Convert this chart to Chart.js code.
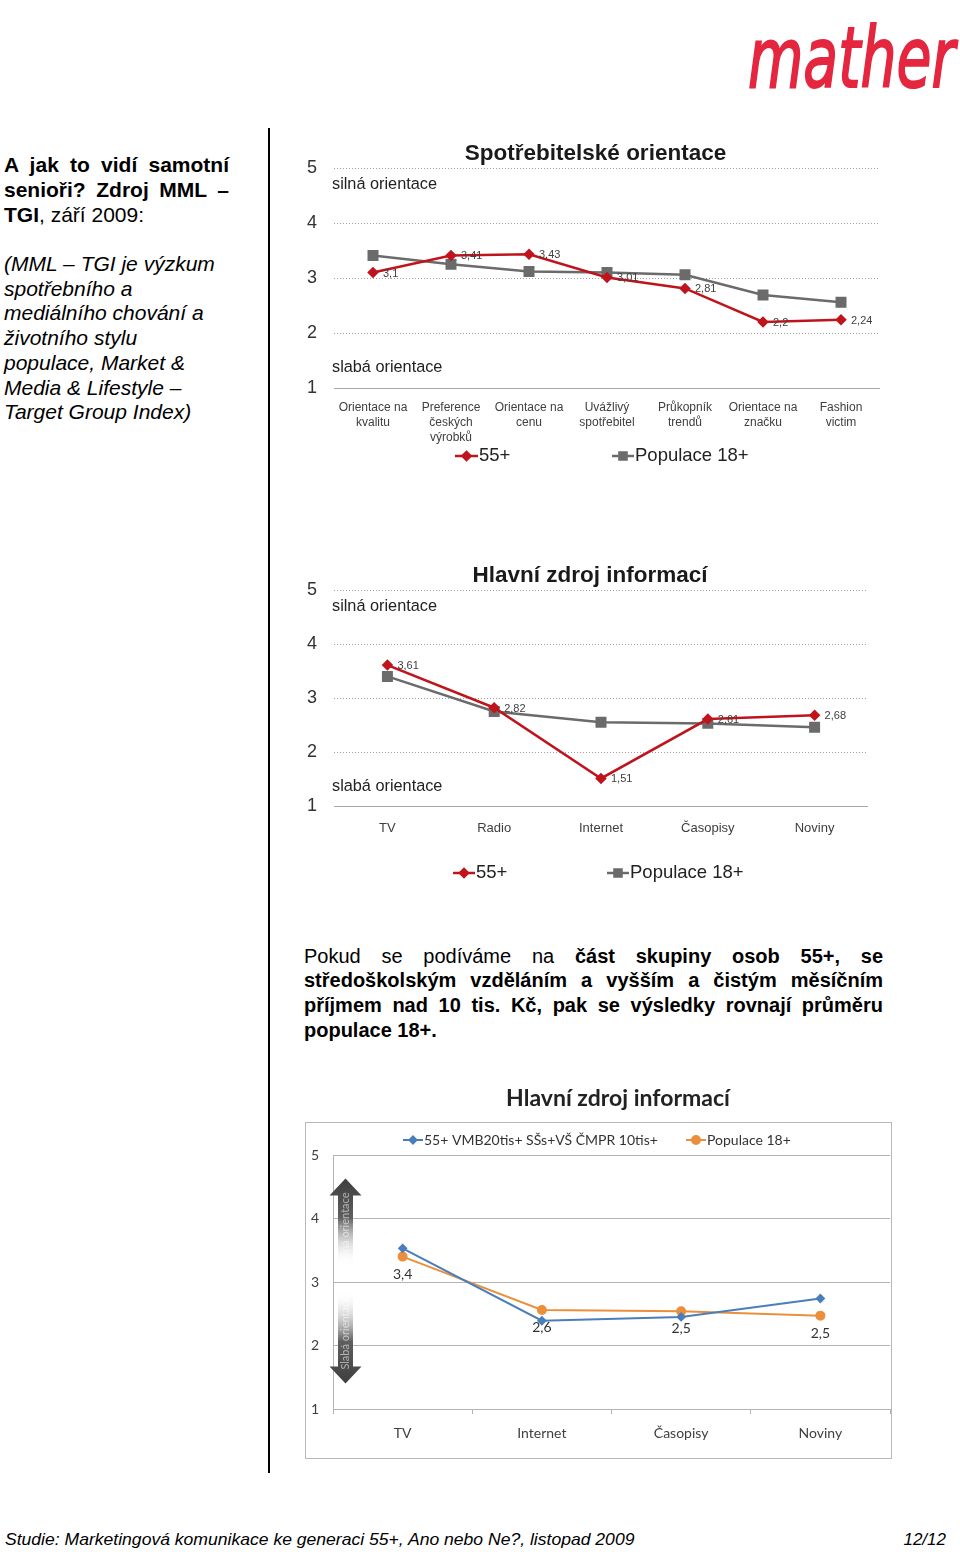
<!DOCTYPE html>
<html><head><meta charset="utf-8">
<script src="https://cdn.jsdelivr.net/npm/chart.js@4.4.1/dist/chart.umd.min.js"></script>
<style>
html,body{margin:0;padding:0;background:#fff;}
#page{position:relative;width:960px;height:1552px;overflow:hidden;font-family:"Liberation Sans",Arial,sans-serif;color:#000;}
.abs{position:absolute;}
.jl{text-align:justify;text-align-last:justify;}
canvas{display:block;}
</style></head>
<body><div id="page">

<div class="abs" id="logo" style="left:748px;top:8px;font-family:'DejaVu Sans';font-weight:normal;font-style:oblique;font-size:84px;line-height:100px;color:#e4263f;white-space:nowrap;transform-origin:left top;-webkit-text-stroke:2px #e4263f;">mather</div>

<div class="abs" style="left:268px;top:128px;width:2px;height:1345px;background:#000;"></div>

<div class="abs" style="left:4px;top:152px;width:225px;font-size:21px;line-height:25px;font-weight:bold;">
  <div class="jl">A jak to vidí samotní</div>
  <div class="jl">senioři? Zdroj MML –</div>
  <div>TGI<span style="font-weight:normal">, září 2009:</span></div>
</div>
<div class="abs" style="left:4px;top:252px;width:260px;font-size:21px;line-height:24.7px;font-style:italic;white-space:nowrap;">
(MML – TGI je výzkum<br>spotřebního a<br>mediálního chování a<br>životního stylu<br>populace, Market &amp;<br>Media &amp; Lifestyle –<br>Target Group Index)
</div>

<div class="abs" style="left:290px;top:130px;"><canvas id="c1" width="600" height="340" style="width:600px;height:340px"></canvas></div>
<div class="abs" style="left:290px;top:550px;"><canvas id="c2" width="600" height="340" style="width:600px;height:340px"></canvas></div>

<div class="abs" style="left:304px;top:943.5px;width:579px;font-size:20px;line-height:24.7px;">
  <div class="jl">Pokud se podíváme na <b>část skupiny osob 55+, se</b></div>
  <div class="jl"><b>středoškolským vzděláním a vyšším a čistým měsíčním</b></div>
  <div class="jl"><b>příjmem nad 10 tis. Kč, pak se výsledky rovnají průměru</b></div>
  <div><b>populace 18+.</b></div>
</div>

<div class="abs" style="left:295px;top:1075px;"><canvas id="c3" width="605" height="395" style="width:605px;height:395px"></canvas></div>

<div class="abs" id="foot" style="left:5px;top:1530px;font-family:'Liberation Sans Narrow','Liberation Sans';font-style:italic;font-size:17px;line-height:20px;white-space:nowrap;transform-origin:left top;">Studie: Marketingová komunikace ke generaci 55+, Ano nebo Ne?, listopad 2009</div>
<div class="abs" style="right:14px;top:1530px;font-family:'Liberation Sans Narrow','Liberation Sans';font-style:italic;font-size:17px;line-height:20px;">12/12</div>

</div>
<script>
// ---------- DATA ----------
const yTicks = [1, 2, 3, 4, 5];

const cat1 = [['Orientace na','kvalitu'],['Preference','českých','výrobků'],['Orientace na','cenu'],['Uvážlivý','spotřebitel'],['Průkopník','trendů'],['Orientace na','značku'],['Fashion','victim']];
const s1_55 = [3.1, 3.41, 3.43, 3.01, 2.81, 2.2, 2.24];
const s1_pop = [3.41, 3.25, 3.12, 3.10, 3.06, 2.69, 2.56];

const cat2 = ['TV','Radio','Internet','Časopisy','Noviny'];
const s2_55 = [3.61, 2.82, 1.51, 2.61, 2.68];
const s2_pop = [3.40, 2.75, 2.55, 2.53, 2.46];

const cat3 = ['TV','Internet','Časopisy','Noviny'];
const s3_sub = [3.53, 2.39, 2.45, 2.74];
const s3_pop = [3.40, 2.56, 2.54, 2.47];

// ---------- fitting helpers ----------
function fitW(id, w){ const el=document.getElementById(id); const r=w/el.scrollWidth; el.style.transform='scaleX('+r+')'; }
fitW('logo', 207);
fitW('foot', 629);

// ---------- plugins ----------
Chart.defaults.font.family = "'Liberation Sans', Arial, sans-serif";
Chart.defaults.animation = false;

const decor = {
  id: 'decor',
  beforeDraw(chart, args, o){
    if (o && o.box){
      const ctx = chart.ctx; ctx.save();
      ctx.strokeStyle = o.box.color; ctx.lineWidth = 1;
      ctx.strokeRect(o.box.x + 0.5, o.box.y + 0.5, o.box.w, o.box.h);
      ctx.restore();
    }
  },
  afterDraw(chart, args, o){
    const ctx = chart.ctx;
    (o.texts || []).forEach(t => {
      ctx.save(); ctx.font = t.font; ctx.fillStyle = t.color || '#222';
      ctx.textAlign = t.align || 'left'; ctx.textBaseline = 'middle';
      ctx.fillText(t.text, t.x, t.y); ctx.restore();
    });
    if (o.legend){
      const L = o.legend;
      L.items.forEach(it => {
        const ds = chart.data.datasets[it.ds];
        ctx.save();
        ctx.strokeStyle = ds.borderColor; ctx.lineWidth = ds.borderWidth;
        ctx.beginPath(); ctx.moveTo(it.x1, L.y); ctx.lineTo(it.x2, L.y); ctx.stroke();
        ctx.fillStyle = ds.pointBackgroundColor || ds.borderColor;
        ctx.strokeStyle = ds.pointBorderColor || ds.borderColor;
        Chart.helpers.drawPoint(ctx, {pointStyle: ds.pointStyle, radius: it.r, borderWidth: 1, rotation: 0}, (it.x1 + it.x2) / 2, L.y);
        ctx.fillStyle = L.color; ctx.font = L.font; ctx.textAlign = 'left'; ctx.textBaseline = 'middle';
        ctx.fillText(ds.label, it.tx, L.y);
        ctx.restore();
      });
    }
  }
};

// dotted horizontal grid drawn from the y scale's ticks
const dotGrid = {
  id: 'dotGrid',
  beforeDatasetsDraw(chart, args, o){
    if (!o || !o.color) return;
    const ys = chart.scales.y, ca = chart.chartArea, ctx = chart.ctx;
    ctx.save(); ctx.lineWidth = 1;
    ys.ticks.forEach(t => {
      const y = Math.round(ys.getPixelForValue(t.value)) + 0.5;
      const base = t.value === ys.min;
      ctx.setLineDash(base ? [] : [1, 2]);
      ctx.strokeStyle = base ? o.axisColor : o.color;
      ctx.beginPath(); ctx.moveTo(ca.left, y); ctx.lineTo(ca.right, y); ctx.stroke();
    });
    ctx.restore();
  }
};

const vlabels = {
  id: 'vlabels',
  afterDatasetsDraw(chart, args, o){
    if (o == null || o.ds == null) return;
    const ctx = chart.ctx;
    const meta = chart.getDatasetMeta(o.ds);
    const data = chart.data.datasets[o.ds].data;
    ctx.save(); ctx.font = o.font; ctx.fillStyle = o.color;
    ctx.textAlign = o.align || 'left'; ctx.textBaseline = 'middle';
    meta.data.forEach((pt, i) => {
      const v = data[i];
      let s;
      if (o.decimals != null){ const p = Math.pow(10, o.decimals); s = (Math.round(v * p) / p).toFixed(o.decimals); }
      else s = String(v);
      ctx.fillText(s.replace('.', ','), pt.x + o.dx, pt.y + o.dy);
    });
    ctx.restore();
  }
};

const arrowPlug = {
  id: 'arrowPlug',
  beforeDatasetsDraw(chart, args, o){
    if (!o || o.top == null) return;
    const ctx = chart.ctx, ys = chart.scales.y;
    const cx = chart.chartArea.left + o.dx;
    function arrow(tip, end, text, up){
      const s = up ? 1 : -1, hl = 17, hw = 16, sw = 7.5;
      const g = ctx.createLinearGradient(0, tip, 0, end);
      g.addColorStop(0, '#3e3e3e'); g.addColorStop(0.45, '#5e5e5e'); g.addColorStop(1, 'rgba(255,255,255,0)');
      ctx.save(); ctx.fillStyle = g;
      ctx.beginPath();
      ctx.moveTo(cx, tip);
      ctx.lineTo(cx - hw, tip + s*hl); ctx.lineTo(cx - sw, tip + s*hl); ctx.lineTo(cx - sw, end);
      ctx.lineTo(cx + sw, end); ctx.lineTo(cx + sw, tip + s*hl); ctx.lineTo(cx + hw, tip + s*hl);
      ctx.closePath(); ctx.fill();
      ctx.translate(cx, up ? tip + 14 : tip - 14);
      ctx.rotate(-Math.PI/2);
      ctx.font = "11px Lato"; ctx.fillStyle = 'rgba(255,255,255,0.55)';
      ctx.textBaseline = 'middle'; ctx.textAlign = up ? 'right' : 'left';
      ctx.fillText(text, 0, 0);
      ctx.restore();
    }
    arrow(ys.getPixelForValue(o.top), ys.getPixelForValue(o.topEnd), o.textTop, true);
    arrow(ys.getPixelForValue(o.bot), ys.getPixelForValue(o.botEnd), o.textBot, false);
  }
};

const RED = '#c0141c', GRAY = '#6b6b6b';

function excelLineChart(id, cats, a, b, cfg){
  return new Chart(document.getElementById(id), {
    type: 'line',
    data: {
      labels: cats,
      datasets: [
        {label: '55+', data: a, borderColor: RED, backgroundColor: RED, pointBackgroundColor: RED, pointBorderColor: RED, borderWidth: 2.5, pointStyle: 'rectRot', pointRadius: 4, tension: 0, order: 1},
        {label: 'Populace 18+', data: b, borderColor: GRAY, backgroundColor: GRAY, pointBackgroundColor: GRAY, pointBorderColor: GRAY, borderWidth: 2.5, pointStyle: 'rect', pointRadius: 6, tension: 0, order: 2}
      ]
    },
    options: {
      responsive: false,
      layout: {padding: {top: cfg.top, right: cfg.right, left: 0, bottom: 0}},
      plugins: {
        legend: {display: false}, tooltip: {enabled: false},
        decor: {texts: cfg.texts, legend: cfg.legend},
        dotGrid: {color: '#a0a0a0', axisColor: '#a6a6a6'},
        vlabels: {ds: 0, dx: 10, dy: 1, font: "11px 'Liberation Sans'", color: '#404040', align: 'left'}
      },
      scales: {
        x: {
          type: 'category', offset: true,
          grid: {display: false}, border: {display: false},
          ticks: {autoSkip: false, maxRotation: 0, font: {size: cfg.xFont, lineHeight: 1.25}, color: '#404040', padding: cfg.xPad},
          afterFit(s){ s.height = cfg.xH; }
        },
        y: {
          min: 1, max: 5,
          afterBuildTicks(s){ s.ticks = yTicks.map(v => ({value: v})); },
          ticks: {font: {size: 18}, color: '#333', padding: 9},
          grid: {display: false},
          border: {display: false},
          afterFit(s){ s.width = 44; }
        }
      }
    },
    plugins: [decor, dotGrid, vlabels]
  });
}

excelLineChart('c1', cat1, s1_55, s1_pop, {
  top: 38, right: 10, xH: 82, xFont: 12, xPad: 4,
  texts: [
    {text: 'Spotřebitelské orientace', x: 305.5, y: 24, font: "bold 22.5px 'Liberation Sans'", align: 'center', color: '#1a1a1a'},
    {text: 'silná orientace', x: 42, y: 55, font: "16.3px 'Liberation Sans'", color: '#222'},
    {text: 'slabá orientace', x: 42, y: 238, font: "16.3px 'Liberation Sans'", color: '#222'}
  ],
  legend: {y: 326, font: "18.5px 'Liberation Sans'", color: '#222', items: [
    {ds: 0, x1: 165, x2: 188, tx: 189, r: 4},
    {ds: 1, x1: 322, x2: 344, tx: 345, r: 5}
  ]}
});

excelLineChart('c2', cat2, s2_55, s2_pop, {
  top: 40, right: 22, xH: 84, xFont: 13, xPad: 6.5,
  texts: [
    {text: 'Hlavní zdroj informací', x: 300, y: 26, font: "bold 22.5px 'Liberation Sans'", align: 'center', color: '#1a1a1a'},
    {text: 'silná orientace', x: 42, y: 57, font: "16.3px 'Liberation Sans'", color: '#222'},
    {text: 'slabá orientace', x: 42, y: 237, font: "16.3px 'Liberation Sans'", color: '#222'}
  ],
  legend: {y: 323, font: "18.5px 'Liberation Sans'", color: '#222', items: [
    {ds: 0, x1: 163, x2: 185, tx: 186, r: 4},
    {ds: 1, x1: 317, x2: 339, tx: 340, r: 5}
  ]}
});

const BLUE = '#4a7ebb', ORANGE = '#eb8f3d', GRID3 = '#b4b4b4';
new Chart(document.getElementById('c3'), {
  type: 'line',
  data: {
    labels: cat3,
    datasets: [
      {label: '55+ VMB20tis+ SŠs+VŠ ČMPR 10tis+', data: s3_sub, borderColor: BLUE, backgroundColor: BLUE, pointBackgroundColor: BLUE, pointBorderColor: BLUE, borderWidth: 2, pointStyle: 'rectRot', pointRadius: 3.5, tension: 0},
      {label: 'Populace 18+', data: s3_pop, borderColor: ORANGE, backgroundColor: ORANGE, pointBackgroundColor: ORANGE, pointBorderColor: ORANGE, borderWidth: 2, pointStyle: 'circle', pointRadius: 4, tension: 0}
    ]
  },
  options: {
    responsive: false,
    layout: {padding: {top: 80, right: 10, left: 0, bottom: 0}},
    plugins: {
      legend: {display: false}, tooltip: {enabled: false},
      decor: {
        box: {x: 10, y: 47, w: 586, h: 336, color: '#b8b8b8'},
        texts: [{text: 'Hlavní zdroj informací', x: 323, y: 24, font: "bold 23px Lato", align: 'center', color: '#222'}],
        legend: {y: 65, font: "14px Lato", color: '#333', items: [
          {ds: 0, x1: 108, x2: 128, tx: 129, r: 3.5},
          {ds: 1, x1: 391, x2: 411, tx: 412, r: 4}
        ]}
      },
      vlabels: {ds: 1, dx: 0, dy: 17.5, font: "14px Lato", color: '#333', align: 'center', decimals: 1},
      arrowPlug: {dx: 12.5, top: 4.63, topEnd: 3.26, bot: 1.40, botEnd: 2.87, textTop: 'Silná orientace', textBot: 'Slabá orientace'}
    },
    scales: {
      x: {
        type: 'category', offset: true,
        grid: {display: true, drawOnChartArea: false, drawTicks: true, tickLength: 5, color: GRID3, offset: true},
        border: {display: true, color: GRID3},
        ticks: {autoSkip: false, maxRotation: 0, font: {family: 'Lato', size: 14}, color: '#404040', padding: 11.5},
        afterFit(s){ s.height = 61; }
      },
      y: {
        min: 1, max: 5,
        afterBuildTicks(s){ s.ticks = yTicks.map(v => ({value: v})); },
        ticks: {font: {family: 'Lato', size: 14}, color: '#404040', padding: 14},
        grid: {drawTicks: false, color: GRID3, lineWidth: 1},
        border: {display: true, color: GRID3},
        afterFit(s){ s.width = 38; }
      }
    }
  },
  plugins: [decor, vlabels, arrowPlug]
});
</script>
</body></html>
